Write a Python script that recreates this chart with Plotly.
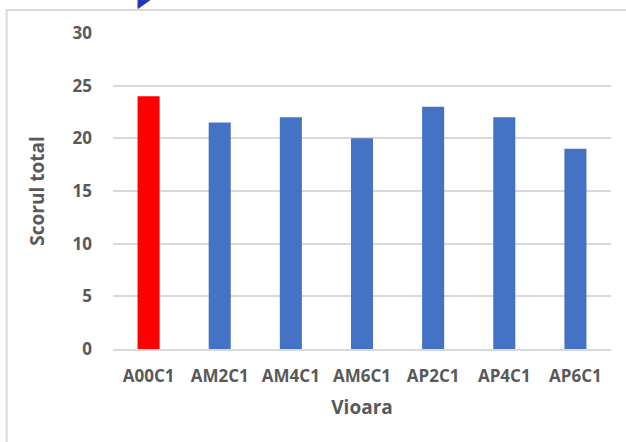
import plotly.graph_objects as go

categories = ["A00C1", "AM2C1", "AM4C1", "AM6C1", "AP2C1", "AP4C1", "AP6C1"]
values = [24, 21.5, 22, 20, 23, 22, 19]
colors = ["#FF0000"] + ["#4472C4"] * 6
y_ticks = [0, 5, 10, 15, 20, 25, 30]

font_fam = "Open Sans"
txt_col = "#595959"

fig = go.Figure(go.Bar(x=categories, y=values, marker=dict(color=colors, line=dict(width=0)),
                       width=0.31))

fig.update_layout(
    width=626, height=442,
    margin=dict(l=113, r=15, t=33, b=93, autoexpand=False),
    paper_bgcolor="white", plot_bgcolor="white",
    showlegend=False,
    font=dict(family=font_fam, color=txt_col),
    bargap=0.69,
)
fig.update_yaxes(
    range=[0, 30], tickvals=y_ticks, showgrid=True, gridcolor="#D9D9D9", gridwidth=1.5,
    zeroline=False, showline=False,
    tickfont=dict(size=17, family=font_fam, color=txt_col, weight="bold"),
    ticklabelstandoff=20,
    title=dict(text="Scorul total", font=dict(size=19, family=font_fam, color=txt_col, weight="bold"),
               standoff=22),
)
fig.update_xaxes(
    showline=True, linecolor="#D9D9D9", linewidth=1.5, showgrid=False,
    tickfont=dict(size=17, family=font_fam, color=txt_col, weight="bold"),
    ticklabelstandoff=11,
    title=dict(text="Vioara", font=dict(size=19, family=font_fam, color=txt_col, weight="bold"),
               standoff=15),
)

# chart frame (partially visible)
fig.add_shape(type="path", xref="paper", yref="paper", layer="below",
              path="M -0.2136 -0.40 L -0.2136 1.0731 L 1.2 1.0731",
              line=dict(color="#D9D9D9", width=2))
# decorative cut-off triangle at top
fig.add_shape(type="path", xref="paper", yref="paper",
              path="M 0.0502 1.1044 L 0.0743 1.1044 L 0.0502 1.0775 Z",
              fillcolor="#1F2FD0", line=dict(color="#2F4F8F", width=1))

fig.write_html("out.html", config={"displayModeBar": False},
               post_script="document.body.style.margin='0';document.body.style.overflow='hidden';")
